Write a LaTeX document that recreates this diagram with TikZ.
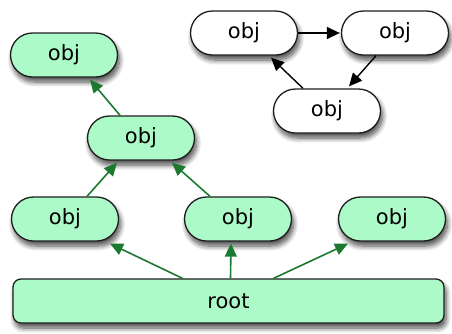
\documentclass[tikz,border=0pt]{standalone}
\usepackage{fontspec}
\setmainfont{DejaVu Sans}
\usetikzlibrary{shapes.misc,arrows.meta,shadows.blur,calc}
\definecolor{objfill}{RGB}{172,250,200}
\definecolor{arrgreen}{RGB}{28,122,48}
\definecolor{edge}{RGB}{30,30,30}
\begin{document}
\begin{tikzpicture}[x=1pt,y=-1pt,
  objbox/.style={rounded rectangle, draw=edge, line width=1.3pt, fill=objfill,
    minimum width=107pt, minimum height=44pt, inner sep=0pt,
    font=\fontsize{21}{24}\selectfont,
    blur shadow={shadow xshift=2pt, shadow yshift=-5pt, shadow blur radius=5pt, shadow blur steps=8, shadow opacity=70}},
  whitebox/.style={objbox, fill=white},
  rootbox/.style={rectangle, rounded corners=8pt, draw=edge, line width=1.3pt, fill=objfill,
    minimum width=431pt, minimum height=44pt, inner sep=0pt,
    font=\fontsize{21}{24}\selectfont,
    blur shadow={shadow xshift=2pt, shadow yshift=-5pt, shadow blur radius=5pt, shadow blur steps=8, shadow opacity=70}},
  garrow/.style={draw=arrgreen, line width=1.6pt, -{Triangle[length=13pt,width=12pt]}},
  karrow/.style={draw=black, line width=1.4pt, -{Triangle[length=13pt,width=12pt]}}
]
\useasboundingbox (0,0) rectangle (452,333);
\node[objbox] (A) at (64,55) {obj};
\node[objbox] (B) at (141,138) {obj};
\node[objbox] (C1) at (65,219) {obj};
\node[objbox] (C2) at (238,219) {obj};
\node[objbox] (C3) at (392,219) {obj};
\node[rootbox] (root) at (228.5,301) {root};
\node[whitebox] (T1) at (244,33) {obj};
\node[whitebox] (T2) at (395,33) {obj};
\node[whitebox] (T3) at (327,111) {obj};

\draw[garrow] ($(B.north)+(-21,0)$) -- ($(A.south)+(26,2)$);
\draw[garrow] ($(C1.north)+(22,0)$) -- ($(B.south)+(-24,2)$);
\draw[garrow] ($(C2.north)+(-28,0)$) -- ($(B.south)+(31,2)$);
\draw[garrow] ($(root.north)+(-46,0)$) -- ($(C1.south)+(45,2)$);
\draw[garrow] ($(root.north)+(2,0)$) -- ($(C2.south)+(-7,2)$);
\draw[garrow] ($(root.north)+(45,0)$) -- ($(C3.south)+(-44,2)$);

\draw[karrow] (T1.east) -- ($(T2.west)+(-1,0)$);
\draw[karrow] ($(T2.south)+(-19,0)$) -- ($(T3.north)+(22,-2)$);
\draw[karrow] ($(T3.north)+(-24,0)$) -- ($(T1.south)+(27,2)$);
\end{tikzpicture}
\end{document}
